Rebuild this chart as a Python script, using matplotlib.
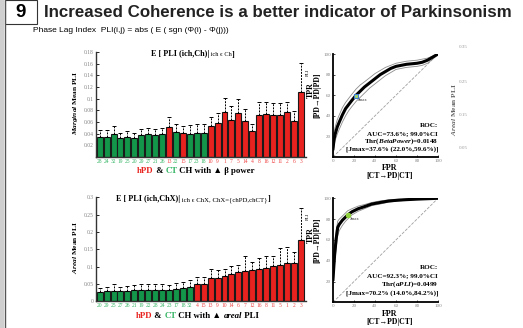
import numpy as np
import matplotlib
matplotlib.use("Agg")
import matplotlib.pyplot as plt
from matplotlib.patches import Rectangle

plt.rcParams['font.family'] = ['Liberation Serif', 'DejaVu Serif']
plt.rcParams['mathtext.fontset'] = 'custom'
plt.rcParams['mathtext.rm'] = 'Liberation Serif:bold'
plt.rcParams['mathtext.bf'] = 'Liberation Serif:bold'
plt.rcParams['mathtext.it'] = 'Liberation Serif:italic:bold'

# ---- data: marginal mean PLI per channel (sorted) ----
top_ch = [28, 24, 32, 19, 25, 20, 29, 27, 21, 26, 13, 22, 15, 17, 23, 18,
          10, 9, 1, 7, 5, 14, 4, 8, 16, 12, 11, 2, 6, 3]
top_mean = [0.035, 0.035, 0.039, 0.033, 0.034, 0.033, 0.037, 0.039, 0.037, 0.039,
            0.051, 0.043, 0.041, 0.040, 0.042, 0.042, 0.054, 0.058, 0.078, 0.063,
            0.075, 0.062, 0.044, 0.072, 0.073, 0.072, 0.072, 0.077, 0.062, 0.111]
top_upper = [0.047, 0.046, 0.053, 0.042, 0.045, 0.041, 0.048, 0.050, 0.048, 0.050,
             0.069, 0.057, 0.054, 0.055, 0.056, 0.057, 0.069, 0.076, 0.102, 0.087,
             0.099, 0.083, 0.056, 0.095, 0.095, 0.092, 0.092, 0.095, 0.079, 0.162]

# ---- data: areal mean PLI per channel (sorted) ----
bot_ch = [20, 29, 25, 27, 26, 21, 19, 22, 28, 24, 23, 17, 18, 32, 4, 15,
          13, 9, 10, 14, 6, 7, 12, 16, 8, 11, 5, 1, 2, 3]
bot_mean = [0.027, 0.030, 0.030, 0.031, 0.031, 0.033, 0.033, 0.033, 0.033, 0.033,
            0.034, 0.036, 0.038, 0.041, 0.050, 0.051, 0.067, 0.068, 0.072, 0.078,
            0.084, 0.088, 0.091, 0.094, 0.097, 0.102, 0.105, 0.111, 0.111, 0.177]
bot_upper = [0.037, 0.040, 0.049, 0.041, 0.044, 0.046, 0.049, 0.049, 0.051, 0.051,
             0.046, 0.054, 0.057, 0.0625, 0.069, 0.069, 0.093, 0.091, 0.094, 0.101,
             0.106, 0.131, 0.113, 0.124, 0.130, 0.132, 0.153, 0.156, 0.143, 0.268]

# ---- ROC curves ----
roc1_fpr = [0, 1, 2, 4, 6, 9, 12, 15, 18, 22, 26, 30, 35, 40, 45, 50, 55, 60, 65,
            70, 75, 80, 85, 90, 95, 100]
roc1_tpr = [8, 17, 22, 29, 34, 41, 47, 51, 55, 60, 64, 68, 72, 76, 80, 83, 86, 88,
            89, 90, 90.5, 91, 92, 94, 97, 100]
roc1_hi = [14, 24, 29, 36, 41, 48, 53, 57, 61, 66, 70, 73, 77, 81, 84, 87, 89, 91,
           92, 93, 93.5, 94, 95, 96, 98, 100]
roc1_lo = [3, 11, 16, 22, 27, 34, 40, 45, 49, 54, 58, 62, 67, 71, 75, 79, 82, 85,
           86, 87, 87.5, 88, 89, 91, 95, 100]

roc2_fpr = [0, 0.5, 1.5, 3, 4.5, 6, 9, 12, 14, 18, 24, 30, 37, 45, 53, 62, 70, 80, 90, 100]
roc2_tpr = [22, 30, 45, 61, 72, 75, 79, 82, 84, 87, 90, 92, 94.5, 96, 97.4, 98.2,
            98.7, 99.2, 99.6, 100]
roc2_hi = [32, 40, 55, 69, 78, 80, 83, 86, 88, 90, 92.5, 94, 96, 97.5, 98.5, 99,
           99.3, 99.6, 99.8, 100]
roc2_lo = [14, 22, 36, 52, 64, 69, 74, 78, 80, 84, 87.5, 90, 93, 94.5, 96.3, 97.4,
           98.1, 98.8, 99.4, 100]

RED = '#e8231f'
GREEN = '#13964a'
RED_T = '#f04545'
GREEN_T = '#35b565'

W, H = 523, 328
fig = plt.figure(figsize=(W / 100, H / 100), dpi=100)
renderer = fig.canvas.get_renderer()

# background axes in pixel coordinates for header and free text
bg = fig.add_axes([0, 0, 1, 1], zorder=0)
bg.set_xlim(0, W)
bg.set_ylim(H, 0)
bg.axis('off')

bg.add_patch(Rectangle((0, 0), 4, H, color='#cfcfcf', lw=0))
bg.plot([4.5, 4.5], [0, H], color='#555555', lw=1)
bg.add_patch(Rectangle((4.5, 0), 32, 24, fill=False, ec='#333333', lw=0.8))
bg.text(20.5, 12.5, '9', ha='center', va='center', fontsize=13.5,
        fontweight='bold', family='Liberation Sans')
bg.text(44, 12.5, 'Increased Coherence is a better indicator of Parkinsonism',
        va='center', fontsize=12.2, fontweight='bold', family='Liberation Sans',
        color='#222222')
bg.text(33, 31, 'Phase Lag Index  PLI(i,j) = abs ( E ( sgn (\u03a6(i) - \u03a6(j)))',
        va='center', fontsize=6.0, family='Liberation Sans')


def chain_text(x, y, pieces):
    # pieces share one baseline; each starts where the previous one ends
    cur = x
    for s, kw in pieces:
        t = bg.text(cur, y, s, va='baseline', ha='left', **kw)
        cur += t.get_window_extent(renderer=renderer).width


def bar_panel(rect, ch, mean, upper, ymax, yticks, ylabels):
    ax = fig.add_axes(rect, zorder=1)
    ax.set_facecolor('none')
    x = np.arange(len(ch))
    cols = [RED if c <= 16 else GREEN for c in ch]
    ax.bar(x, mean, width=0.86, color=cols, edgecolor='#1a1a1a', lw=0.8, zorder=2)
    err = np.array(upper) - np.array(mean)
    eb = ax.errorbar(x, mean, yerr=[np.zeros(len(mean)), err], fmt='none',
                     ecolor='k', elinewidth=0.7, capsize=1.3, capthick=0.7, zorder=3)
    eb[2][0].set_linestyle((0, (2, 1.2)))
    ax.set_xlim(-0.53, 29.75)
    ax.set_ylim(0, ymax)
    ax.set_xticks(x, [str(c) for c in ch])
    for lab, c in zip(ax.get_xticklabels(), ch):
        lab.set_color(RED_T if c <= 16 else GREEN_T)
    ax.tick_params(axis='x', length=0, pad=1.5, labelsize=4)
    ax.set_yticks(yticks, ylabels)
    ax.tick_params(axis='y', direction='in', length=2, width=0.6, pad=1.5,
                   labelsize=4, labelcolor='#808080')
    for s in ['top', 'right']:
        ax.spines[s].set_visible(False)
    for s in ['left', 'bottom']:
        ax.spines[s].set_color('#333333')
        ax.spines[s].set_linewidth(1.0)
    return ax


def roc_panel(rect, fpr, tpr, hi, lo, jx, jy, mk, text_lines, text_y):
    ax = fig.add_axes(rect, zorder=1)
    ax.set_facecolor('none')
    ax.plot([0, 100], [0, 100], ls='--', color='#a0a0a0', lw=0.6)
    ax.plot(fpr, hi, color='#8c8c8c', lw=0.6)
    ax.plot(fpr, lo, color='#8c8c8c', lw=0.6)
    ax.plot(fpr, tpr, color='k', lw=2.2)
    ax.plot([jx], [jy], **mk)
    ax.text(jx + 2, jy - 5, 'Jmax', fontsize=3.3, color='#333333')
    for s, yy in zip(text_lines, text_y):
        ax.text(100, yy, s, ha='right', va='center', fontsize=5.1, fontweight='bold')
    ax.set_xlim(0, 100)
    ax.set_ylim(0, 100)
    ax.set_xticks([0, 20, 40, 60, 80, 100])
    ax.set_yticks([20, 40, 60, 80, 100])
    ax.tick_params(direction='in', length=1.5, width=0.5, pad=1.5,
                   labelsize=3.6, labelcolor='#808080')
    for s in ['top', 'right']:
        ax.spines[s].set_visible(False)
    for s in ['left', 'bottom']:
        ax.spines[s].set_linewidth(1.3)
    return ax


# ---- top bar chart ----
bar_panel([96 / W, 1 - 157 / H, 210 / W, 105 / H], top_ch, top_mean, top_upper, 0.18,
          [0.02, 0.04, 0.06, 0.08, 0.1, 0.12, 0.14, 0.16, 0.18],
          ['0.02', '0.04', '0.06', '0.08', '0.1', '0.12', '0.14', '0.16', '0.18'])
chain_text(151, 56.5, [('E [ PLI (ich,Ch)|', dict(fontsize=5.9, fontweight='bold')),
                       (' ich \u03f5 Ch', dict(fontsize=4.6)),
                       (']', dict(fontsize=5.9, fontweight='bold'))])
chain_text(137, 173, [('hPD', dict(fontsize=6.3, fontweight='bold', color=RED)),
                      (' & ', dict(fontsize=6.3, fontweight='bold')),
                      ('CT', dict(fontsize=6.3, fontweight='bold', color=GREEN_T)),
                      (' CH with \u25b2 \u03b2 power', dict(fontsize=6.3, fontweight='bold'))])
bg.text(75, 103, r'$\mathit{Marginal}$ Mean PLI', rotation=90, ha='center',
        va='center', fontsize=5.3, fontweight='bold')

# ---- bottom bar chart ----
bar_panel([96 / W, 1 - 301.3 / H, 210 / W, 104 / H], bot_ch, bot_mean, bot_upper, 0.3,
          [0, 0.05, 0.1, 0.15, 0.2, 0.25, 0.3],
          ['0', '0.05', '0.1', '0.15', '0.2', '0.25', '0.3'])
chain_text(116, 201, [('E [ PLI (ich,ChX)|', dict(fontsize=5.9, fontweight='bold')),
                      (' ich \u03f5 ChX, ChX={chPD,chCT}', dict(fontsize=4.9)),
                      (']', dict(fontsize=5.9, fontweight='bold'))])
chain_text(136, 318, [('hPD', dict(fontsize=6.3, fontweight='bold', color=RED)),
                      (' & ', dict(fontsize=6.3, fontweight='bold')),
                      ('CT', dict(fontsize=6.3, fontweight='bold', color=GREEN_T)),
                      (' CH with \u25b2 ', dict(fontsize=6.3, fontweight='bold')),
                      ('areal', dict(fontsize=6.3, fontweight='bold', style='italic')),
                      (' PLI', dict(fontsize=6.3, fontweight='bold'))])
bg.text(75, 248, r'$\mathit{Areal}$ Mean PLI', rotation=90, ha='center',
        va='center', fontsize=5.3, fontweight='bold')

# clipped label remnants at right edge of bar charts
bg.text(307.5, 72, 'PLI', rotation=90, ha='center', va='center', fontsize=3.2,
        fontweight='bold', color='#444444')
bg.text(307.5, 216, 'PLI', rotation=90, ha='center', va='center', fontsize=3.2,
        fontweight='bold', color='#444444')

# ---- ROC panels ----
roc_panel([333 / W, 1 - 157 / H, 105 / W, 103 / H], roc1_fpr, roc1_tpr, roc1_hi, roc1_lo,
          22, 59.6, dict(marker='s', ms=3.2, mfc='#a6d86a', mec='#3d7fd6', mew=0.8),
          ['ROC:', 'AUC=73.6%; 99.0%CI', r'Thr($\mathit{BetaPower}$)=0.0148',
           '[Jmax=37.6% (22.0%,59.6%)]'], [31, 23, 15.2, 7.3])
roc_panel([333 / W, 1 - 302.3 / H, 105 / W, 104 / H], roc2_fpr, roc2_tpr, roc2_hi, roc2_lo,
          14, 84.2, dict(marker='o', ms=3, mfc='#8fd23c', mec='#8fd23c'),
          ['ROC:', 'AUC=92.3%; 99.0%CI', r'Thr($\mathit{aPLI}$)=0.0499',
           '[Jmax=70.2% (14.0%,84.2%)]'], [33.7, 25.6, 17.4, 8.6])

for yt, yb in [(90, 95), (235, 240)]:
    bg.text(310.5, yt, 'TPR', rotation=90, ha='center', va='center',
            fontsize=5.8, fontweight='bold')
    bg.text(317, yb, '[PD\u2192PD|PD]', rotation=90, ha='center', va='center',
            fontsize=5.6, fontweight='bold')
for yf, yb in [(168.5, 176), (314.5, 322.5)]:
    bg.text(390, yf, 'FPR', ha='center', va='center', fontsize=5.8, fontweight='bold')
    bg.text(390, yb, '[CT\u2192PD|CT]', ha='center', va='center', fontsize=5.6,
            fontweight='bold')

# stray right-hand axis labels visible at the top right
for lab, yy in zip(['0.35', '0.25', '0.15', '0.05'], [47.3, 81.7, 115, 148.3]):
    bg.text(459, yy, lab, va='center', ha='left', fontsize=3.6, color='#999999')
bg.text(454.5, 110, r'$\mathit{Areal}$ Mean PLI', rotation=90, ha='center',
        va='center', fontsize=5.3, fontweight='bold', color='#666666')

fig.savefig('out.png', dpi=100)
